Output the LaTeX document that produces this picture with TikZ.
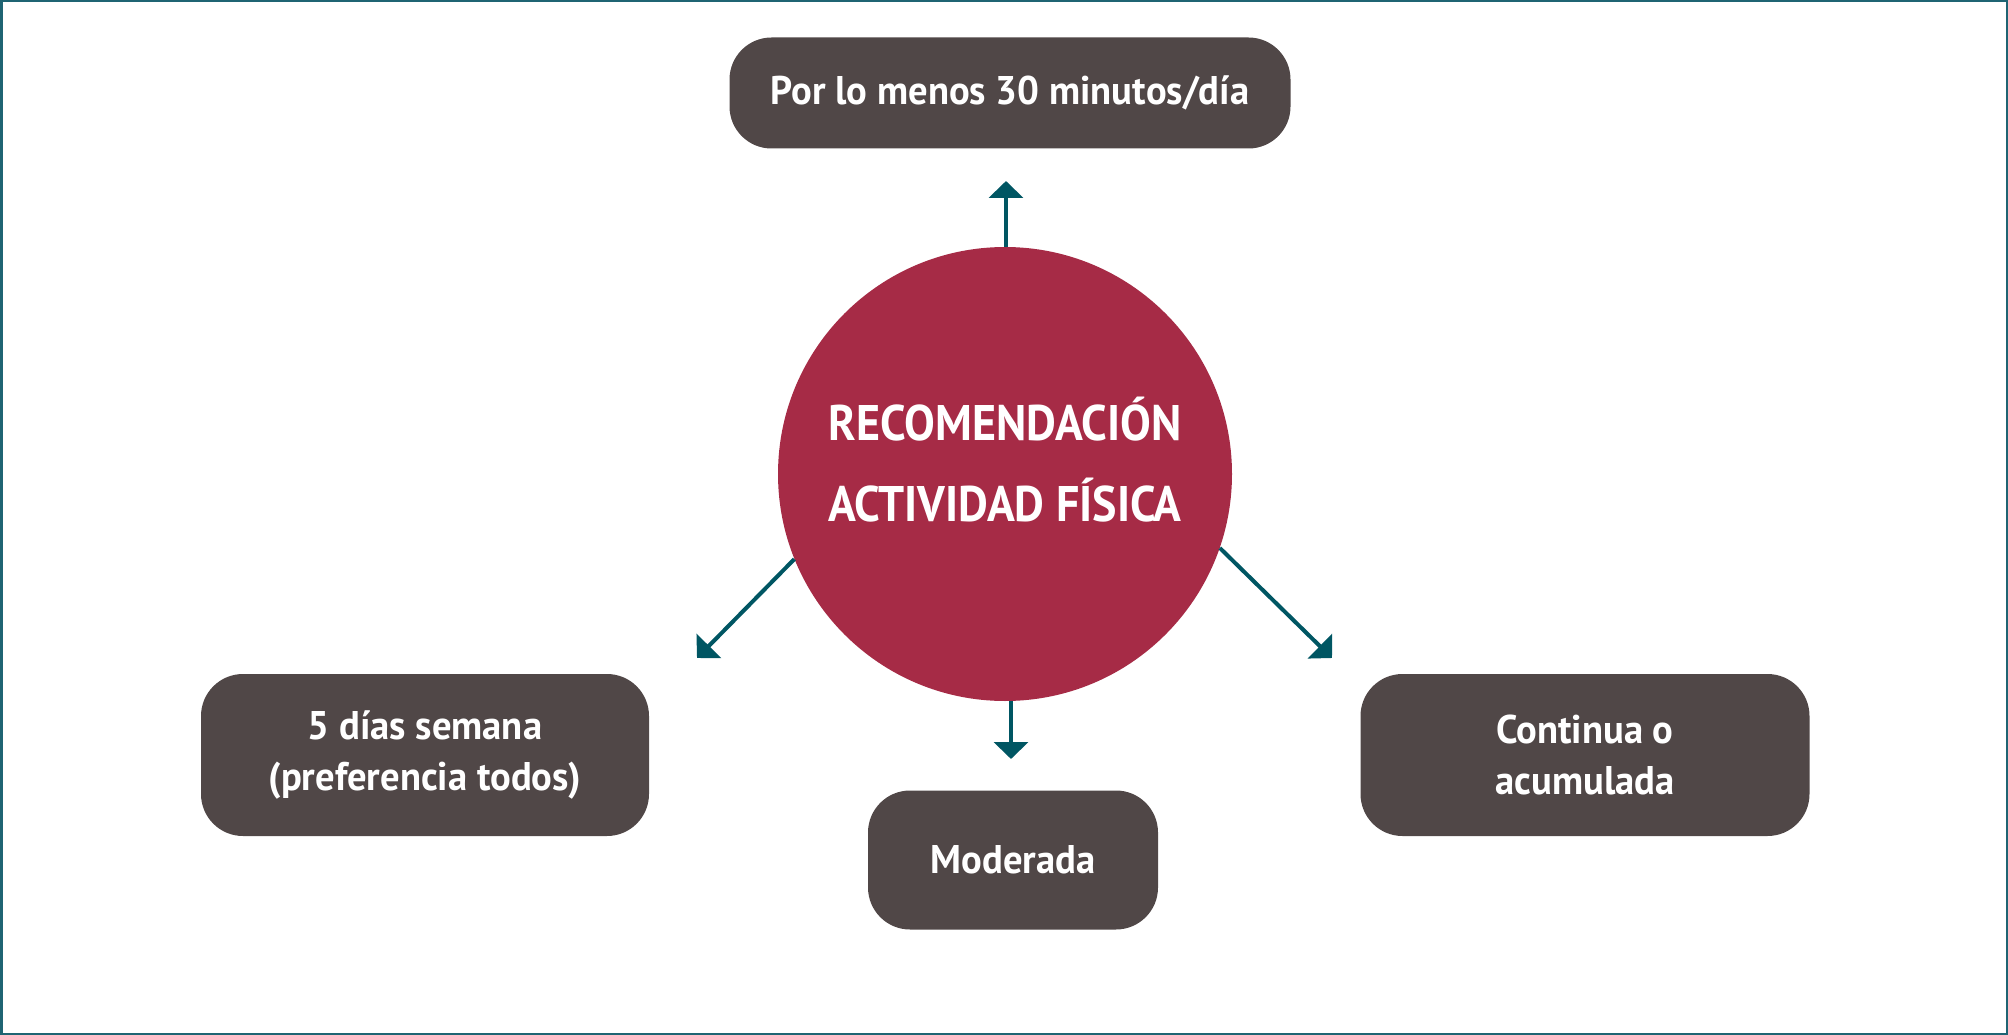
\documentclass[tikz,border=0pt]{standalone}
\usepackage{fontspec}
\setmainfont{PT Sans}
\newfontfamily\boxfont[FakeStretch=0.965]{PT Sans}
\newfontfamily\circfont[FakeStretch=0.92]{PT Sans}
\usetikzlibrary{arrows.meta}
\definecolor{boxc}{RGB}{80,71,71}
\definecolor{circc}{RGB}{166,43,70}
\definecolor{tealc}{RGB}{0,86,99}
\definecolor{framec}{RGB}{31,100,115}
\tikzset{
  box/.style={rectangle, rounded corners=42pt, fill=boxc, text=white, font=\boxfont\fontsize{40}{51}\selectfont\bfseries, align=center, inner sep=0pt},
  arr/.style={draw=tealc, line width=4pt, -{Triangle[length=17pt,width=34pt]}},
}
\begin{document}
\begin{tikzpicture}[x=1pt,y=-1pt]
\useasboundingbox (0,0) rectangle (2008,1035);
\draw[framec, line width=2.5pt] (1.25,1.25) rectangle (2006.75,1033.75);
\node[circle, fill=circc, minimum size=454pt, inner sep=0pt] (circ) at (1005,474) {};
\node[text=white, align=center, inner sep=0pt,
  font=\circfont\fontsize{50}{81}\selectfont\bfseries] (ctext) at (1005,460) {RECOMENDACIÓN\\ACTIVIDAD FÍSICA};
\node[box, minimum width=561pt, minimum height=111pt] (top) at (1010,93) {Por lo menos 30 minutos/día};
\node[box, minimum width=448pt, minimum height=162pt] (left) at (425,755) {5 días semana\\(preferencia todos)};
\node[box, minimum width=449pt, minimum height=162pt] (right) at (1585,755) {Continua o\\acumulada};
\node[box, minimum width=290pt, minimum height=139pt] (bot) at (1013,860) {Moderada};
\coordinate (tipT) at (1006,181);
\coordinate (tipB) at (1011,759);
\coordinate (tipL) at (697,658);
\coordinate (tipR) at (1332,658);
\draw[arr] (circ.north -| tipT) -- (tipT);
\draw[arr] (circ.south -| tipB) -- (tipB);
\draw[arr] (circ.202) -- (tipL);
\draw[arr] (circ.-19) -- (tipR);
\end{tikzpicture}
\end{document}
